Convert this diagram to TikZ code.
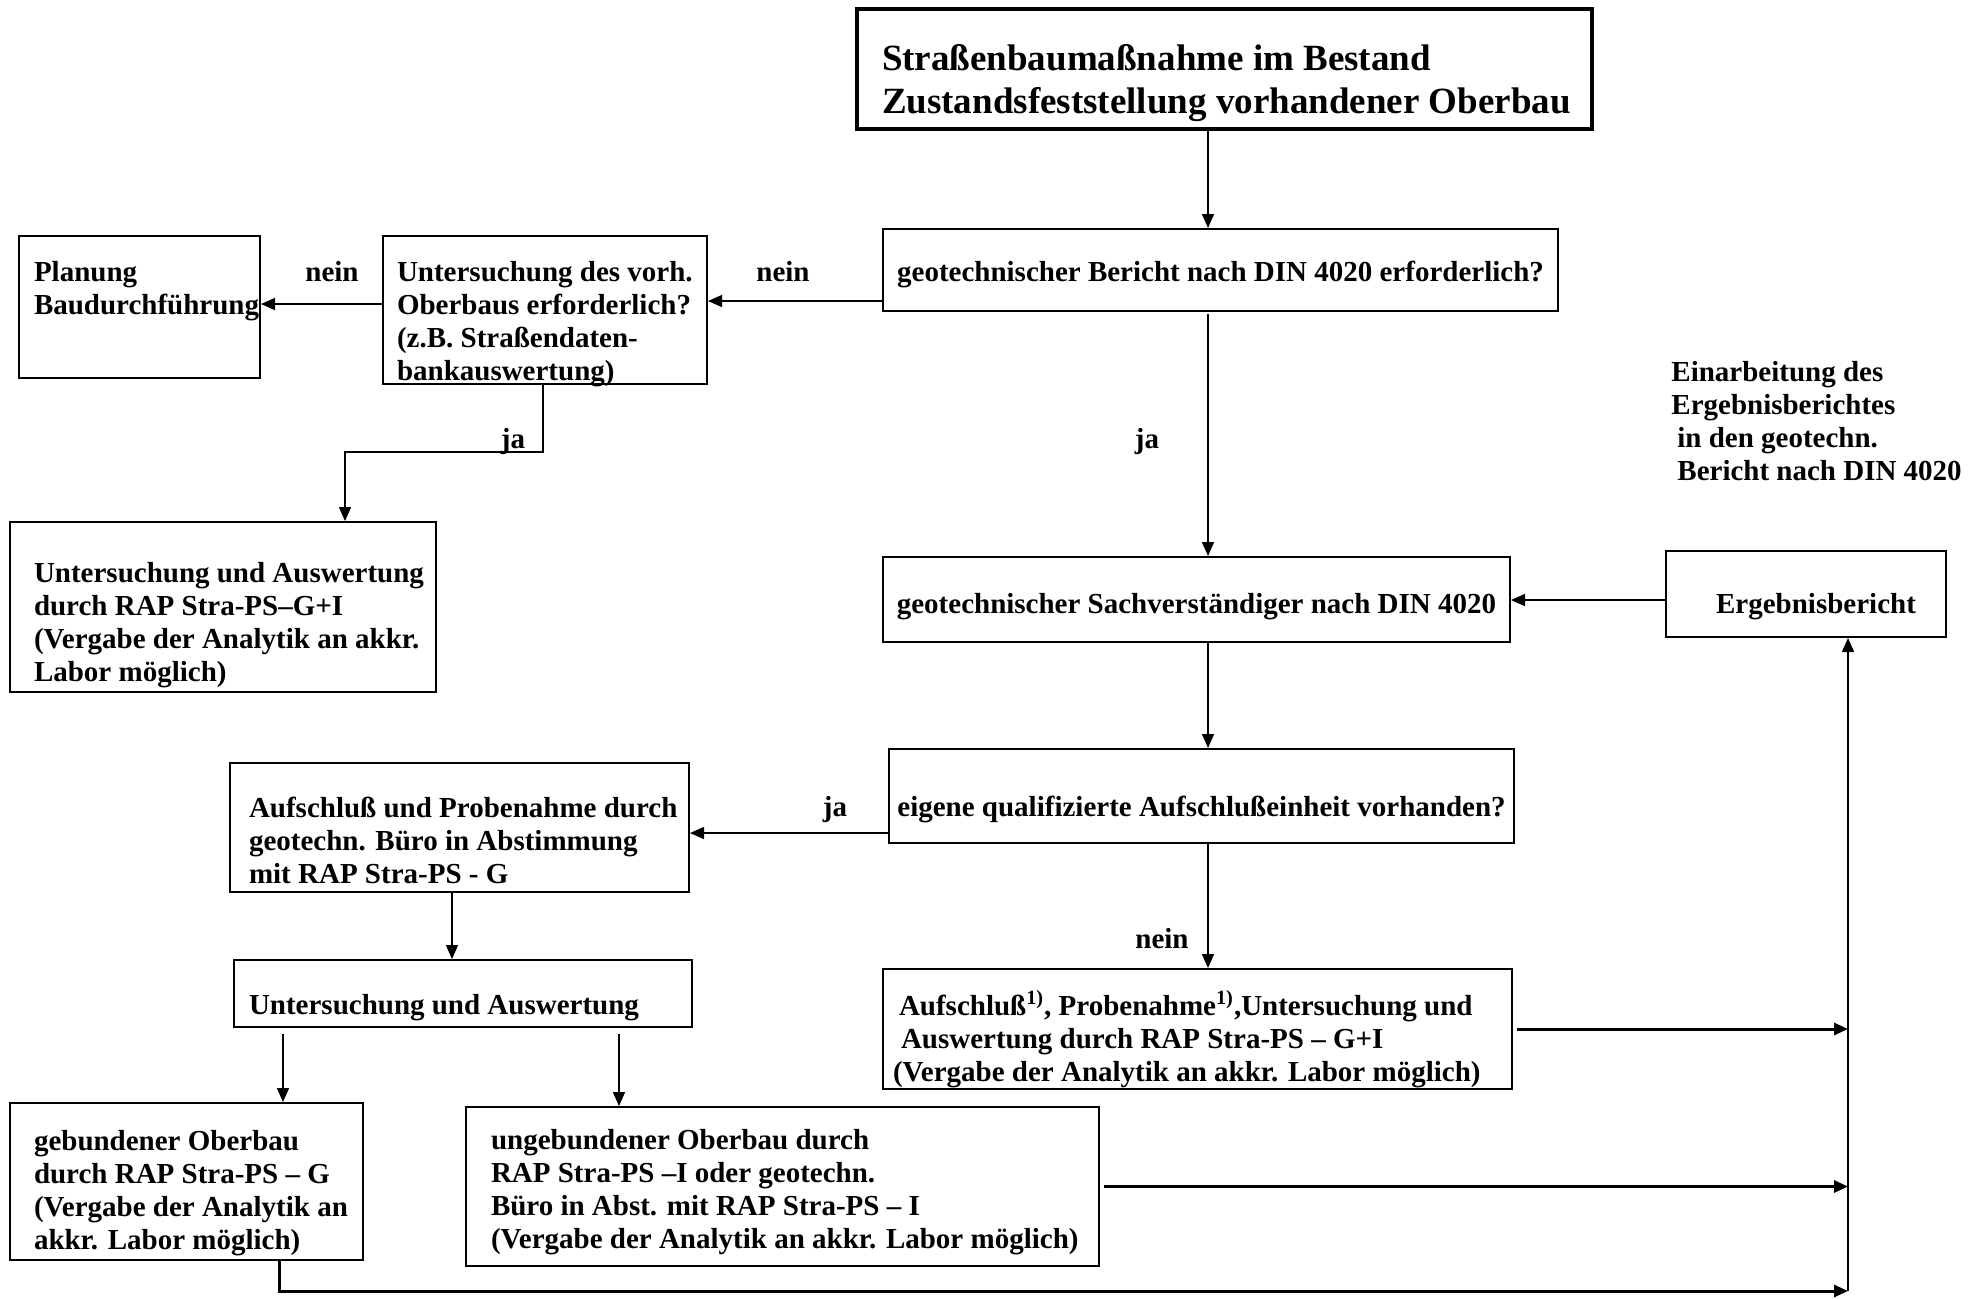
\documentclass[tikz,border=0pt]{standalone}
\usepackage{fontspec}
\setmainfont{Liberation Serif}
\usetikzlibrary{arrows.meta,calc}
\newcommand\fbody{\fontsize{14.5}{16.5}\selectfont\bfseries}
\newcommand\ftitle{\fontsize{18.5}{21.5}\selectfont\bfseries}
\newcommand\LL[1]{\mbox{#1}}
\newcommand\down[2]{\raisebox{-#1}[\height][\depth]{#2}}
\newcommand\tb[3]{\raisebox{-#1}[\height][\depth]{\parbox{#2}{\raggedright #3}}}
\tikzset{
  box/.style={draw, line width=1pt, inner ysep=0pt, font=\fbody},
  lbl/.style={inner sep=0pt, font=\fbody},
  arr/.style={-{Triangle[length=7pt,width=6pt]}, line width=0.75pt},
  arrthick/.style={-{Triangle[length=7pt,width=6pt]}, line width=1.5pt},
}
\begin{document}
\begin{tikzpicture}[x=0.5pt,y=-0.5pt]
\useasboundingbox (0,0) rectangle (1981,1298);
% boxes
\node[box, line width=2.2pt, minimum height=60pt, inner xsep=12.5pt, font=\ftitle] (top) at (1224.5,69) {\tb{7pt}{342.5pt}{\LL{Straßenbaumaßnahme im Bestand}\\\LL{Zustandsfeststellung vorhandener Oberbau}}};
\node[box, minimum width=337.5pt, minimum height=41pt] (geo) at (1220.5,270) {\down{2pt}{geotechnischer Bericht nach DIN 4020 erforderlich?}};
\node[box, minimum height=74pt, inner xsep=7pt] (unters) at (545,310) {\tb{7pt}{148pt}{\LL{Untersuchung des vorh.}\\\LL{Oberbaus erforderlich?}\\\LL{(z.B. Straßendaten-}\\\LL{bankauswertung)}}};
\node[box, minimum height=71pt, inner xsep=7.5pt] (planung) at (139.5,307) {\tb{1pt}{105.5pt}{\LL{Planung}\\\LL{Baudurchführung}\\\strut}};
\node[box, minimum height=85pt, inner xsep=12pt] (rapgi) at (223,607) {\tb{9pt}{189pt}{\LL{Untersuchung und Auswertung}\\\LL{durch RAP Stra-PS–G+I}\\\LL{(Vergabe der Analytik an akkr.}\\\LL{Labor möglich)}}};
\node[box, minimum width=313.5pt, minimum height=42.5pt] (sach) at (1196.5,599.5) {\down{3.5pt}{geotechnischer Sachverständiger nach DIN 4020}};
\node[box, minimum width=140pt, minimum height=43pt] (ergeb) at (1806,594) {\down{6.5pt}{\hspace{10pt}Ergebnisbericht}};
\node[lbl, anchor=north west, align=left] (einarb) at (1671,361) {Einarbeitung des\\Ergebnisberichtes\\\hspace{3pt}in den geotechn.\\\hspace{3pt}Bericht nach DIN 4020};
\node[box, minimum width=312.5pt, minimum height=47pt] (eigene) at (1201.5,796) {\down{6.5pt}{eigene qualifizierte Aufschlußeinheit vorhanden?}};
\node[box, minimum height=64.5pt, inner xsep=9.5pt] (aufl) at (459.5,827.5) {\tb{6.5pt}{210.5pt}{\LL{Aufschluß und Probenahme durch}\\\LL{geotechn. Büro in Abstimmung}\\\LL{mit RAP Stra-PS - G}}};
\node[box, minimum height=33.5pt, inner xsep=7.5pt] (uua) at (463,993.5) {\tb{7pt}{214pt}{\LL{Untersuchung und Auswertung}}};
\node[box, minimum height=78.5pt, inner xsep=12pt] (geb) at (186.5,1181.5) {\tb{6pt}{152.5pt}{\LL{gebundener Oberbau}\\\LL{durch RAP Stra-PS – G}\\\LL{(Vergabe der Analytik an}\\\LL{akkr. Labor möglich)}}};
\node[box, minimum height=79.5pt, inner xsep=12.5pt] (ungeb) at (782.5,1186.5) {\tb{3pt}{291.5pt}{\LL{ungebundener Oberbau durch}\\\LL{RAP Stra-PS –I oder geotechn.}\\\LL{Büro in Abst. mit RAP Stra-PS – I}\\\LL{(Vergabe der Analytik an akkr. Labor möglich)}}};
\node[box, minimum height=60pt, inner xsep=8pt] (aufr) at (1197.5,1029) {\tb{5pt}{298.5pt}{\LL{Aufschluß\textsuperscript{1)}, Probenahme\textsuperscript{1)},Untersuchung und}\\\LL{\hspace{1pt}Auswertung durch RAP Stra-PS – G+I}\\\LL{\hspace{-3pt}(Vergabe der Analytik an akkr. Labor möglich)}}};
% labels
\node[lbl] (l1) at (783,272) {nein};
\node[lbl] (l2) at (332,272) {nein};
\node[lbl] (l3) at (513,442) {ja};
\node[lbl] (l4) at (1147,442) {ja};
\node[lbl] (l5) at (835,810) {ja};
\node[lbl] (l6) at (1162,939) {nein};
% helper coordinates
\coordinate (spine) at (1208,0);
\coordinate (coll) at (1848,0);
\coordinate (bot) at (0,1291);
\coordinate (y301) at (0,301);
\coordinate (y304) at (0,304);
\coordinate (jx) at (543,0);
\coordinate (jy) at (0,452);
\coordinate (jx2) at (345,0);
\coordinate (y600) at (0,600);
\coordinate (y833) at (0,833);
\coordinate (ax) at (452,0);
\coordinate (gx) at (283,0);
\coordinate (ux) at (619,0);
\coordinate (bx) at (279,0);
% connectors
\draw[arr] (top.south -| spine) -- (geo.north -| spine);
\draw[arr] (geo.west |- y301) -- (unters.east |- y301);
\draw[arr] (unters.west |- y304) -- (planung.east |- y304);
\draw[arr] (unters.south -| jx) |- (jx2 |- jy) -- (rapgi.north -| jx2);
\draw[arr] ([yshift=-1pt]geo.south -| spine) -- (sach.north -| spine);
\draw[arr] (ergeb.west |- y600) -- (sach.east |- y600);
\draw[arr] (sach.south -| spine) -- (eigene.north -| spine);
\draw[arr] (eigene.west |- y833) -- (aufl.east |- y833);
\draw[arr] (aufl.south -| ax) -- (uua.north -| ax);
\draw[arr] ([yshift=-3pt]uua.south -| gx) -- (geb.north -| gx);
\draw[arr] ([yshift=-3pt]uua.south -| ux) -- (ungeb.north -| ux);
\draw[arr] (eigene.south -| spine) -- (aufr.north -| spine);
\draw[arrthick] ([xshift=2pt]aufr.east) -- (coll |- aufr.east);
\draw[arrthick] ([xshift=2pt]ungeb.east) -- (coll |- ungeb.east);
\draw[arrthick] (geb.south -| bx) -- (bx |- bot) -- (coll |- bot);
\draw[arr] (coll |- bot) -- (coll |- ergeb.south);
\end{tikzpicture}
\end{document}
